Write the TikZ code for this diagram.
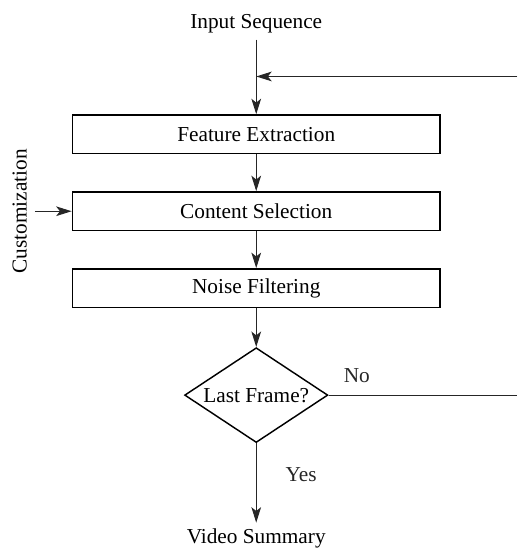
\documentclass[tikz,border=0pt]{standalone}
\usepackage{fontspec}
\setmainfont{Liberation Serif}
\usepackage{tikz}
\usetikzlibrary{positioning}
\usetikzlibrary{arrows.meta}
\usetikzlibrary{shapes.geometric}

\begin{document}
\begin{tikzpicture}[
		node distance=19pt,
		font=\fontsize{11}{13}\selectfont,
		stage/.style={rectangle, draw, line width=0.75pt, minimum width=190pt, minimum height=20pt, inner sep=0pt},
		decision/.style={diamond, draw, line width=0.75pt, shape aspect=1.5, minimum width=74pt, minimum height=49pt, inner sep=0pt},
		term/.style={inner sep=3pt},
		arrow/.style={-{Stealth[length=8pt, width=5pt, inset=2pt]}, line width=0.5pt, black!85},
		wire/.style={line width=0.5pt, black!85}
		]
		
		% Processing stages
		\node[stage] (feature) {Feature Extraction};
		\node[stage, below=of feature] (content) {Content Selection};
		\node[stage, below=of content] (noise) {Noise Filtering};
		
		% Decision point
		\node[decision, below=20pt of noise] (last) {Last Frame?};
		
		% Input and output
		\node[term, above=38.5pt of feature] (input) {Input Sequence};
		\node[term, below=41pt of last] (summary) {Video Summary};
		\node[term, rotate=90, anchor=south, inner sep=4pt] (custom) at ([xshift=-19pt]content.west) {Customization};
		
		% Picture frame
		\useasboundingbox ([xshift=-37pt, yshift=59pt]feature.north west) rectangle ([xshift=39.5pt, yshift=-198pt]feature.south east);
		\coordinate (rim) at ([xshift=39.5pt]feature.east);
		\coordinate (merge) at ([yshift=19.5pt]feature.north);
		\coordinate (back) at (merge -| rim);
		\coordinate (exit) at (last -| rim);
		
		% Forward flow arrows
		\draw[arrow] (input) -- (feature);
		\draw[arrow] (feature) -- (content);
		\draw[arrow] (content) -- (noise);
		\draw[arrow] (noise) -- (last);
		\draw[arrow] (last) -- node[term, right=12pt, pos=0.4] {Yes} (summary);
		\draw[arrow] (custom) -- (content);
		
		% Loop back
		\draw[wire] (last) -- node[term, above=3pt, pos=0.15] {No} (exit);
		\draw[arrow] (back) -- (merge);
		
	\end{tikzpicture}
\end{document}
